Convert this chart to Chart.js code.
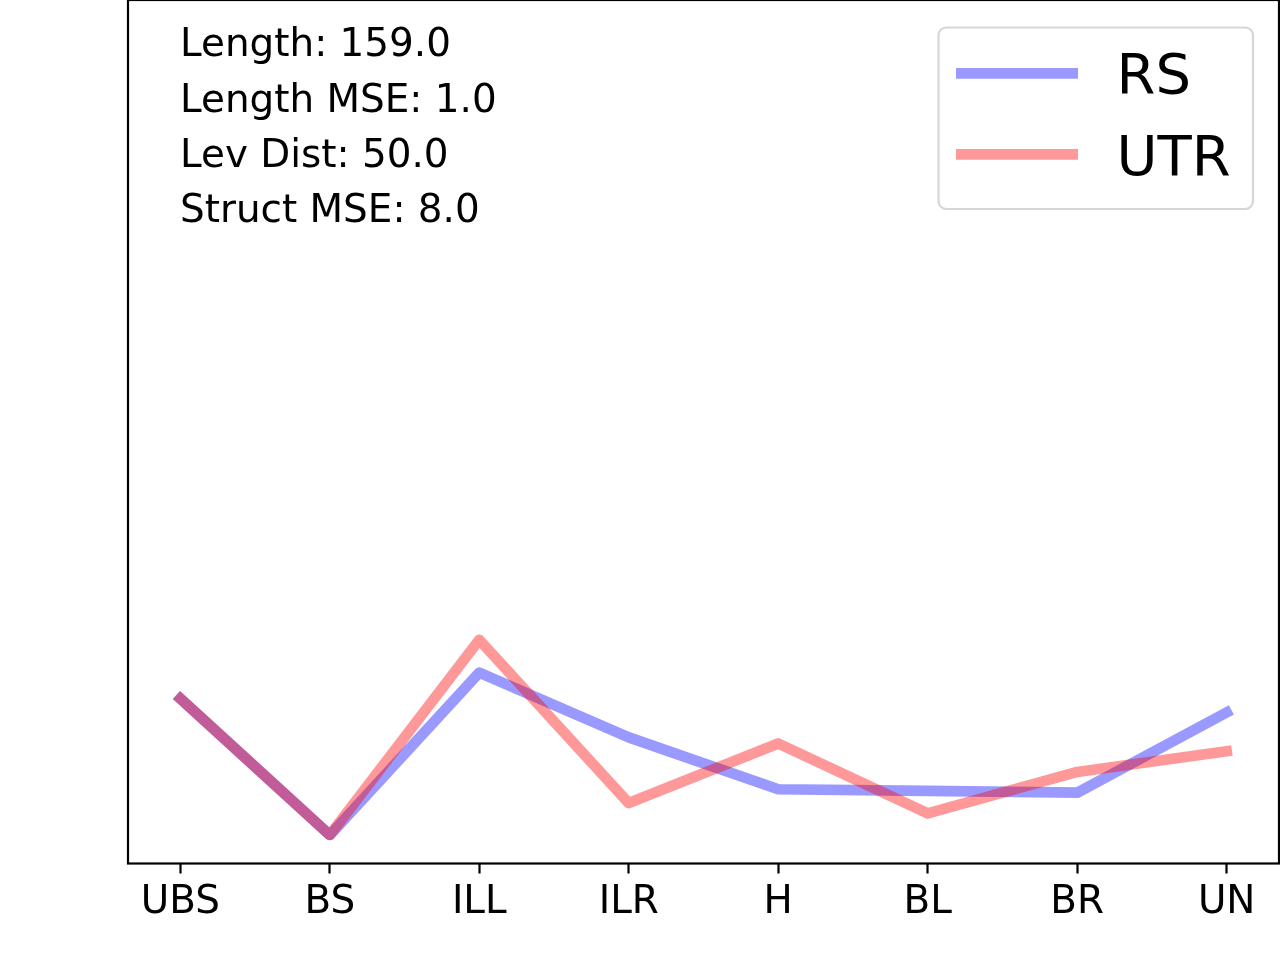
<!DOCTYPE html>
<html>
<head>
<meta charset="utf-8">
<script src="https://cdn.jsdelivr.net/npm/chart.js@4"></script>
<style>
  html, body { margin: 0; padding: 0; background: #fff; }
  #wrap { width: 1280px; height: 960px; position: relative; }
</style>
</head>
<body>
<div id="wrap"><canvas id="chart"></canvas></div>
<script>
// categories along the x axis
const labels = ['UBS', 'BS', 'ILL', 'ILR', 'H', 'BL', 'BR', 'UN'];

// series values (y axis has no ticks, read as % of plot height)
const rsValues = [19.1, 3.3, 22.1, 14.6, 8.6, 8.4, 8.2, 17.5];
const utrValues = [19.1, 3.3, 25.9, 7.0, 13.9, 5.8, 10.6, 13.0];

// stats printed in the top left corner
const statLines = ['Length: 159.0', 'Length MSE: 1.0', 'Lev Dist: 50.0', 'Struct MSE: 8.0'];

const FONT = '"DejaVu Sans", sans-serif';
const LW = 10.7;

const toPoints = (vals) => vals.map((v, i) => ({ x: i, y: v }));

// black box round the plot, like matplotlib spines
const framePlugin = {
    id: 'frame',
    afterDatasetsDraw(chart) {
        const a = chart.chartArea;
        const ctx = chart.ctx;
        ctx.save();
        ctx.strokeStyle = '#000';
        ctx.lineWidth = 2.2;
        ctx.strokeRect(a.left, a.top, a.right - a.left, a.bottom - a.top);
        ctx.restore();
    }
};

// stats text and the boxed legend
const overlayPlugin = {
    id: 'overlay',
    afterDraw(chart) {
        const ctx = chart.ctx;
        ctx.save();
        ctx.fillStyle = '#000';
        ctx.textBaseline = 'alphabetic';
        ctx.textAlign = 'left';
        ctx.font = '38.9px ' + FONT;
        const baseY = [56, 111.7, 166.7, 221.7];
        statLines.forEach((t, i) => ctx.fillText(t, 180, baseY[i]));

        // legend box
        const bx = 938.5, by = 27.5, bw = 314.5, bh = 181.5, r = 8;
        ctx.beginPath();
        ctx.moveTo(bx + r, by);
        ctx.arcTo(bx + bw, by, bx + bw, by + bh, r);
        ctx.arcTo(bx + bw, by + bh, bx, by + bh, r);
        ctx.arcTo(bx, by + bh, bx, by, r);
        ctx.arcTo(bx, by, bx + bw, by, r);
        ctx.closePath();
        ctx.fillStyle = 'rgba(255,255,255,0.8)';
        ctx.fill();
        ctx.strokeStyle = '#d6d6d6';
        ctx.lineWidth = 2.2;
        ctx.stroke();

        const rows = [chart.data.datasets[1], chart.data.datasets[0]];
        const rowY = [73.3, 154.3];
        const textY = [92.7, 175];
        ctx.font = '56px ' + FONT;
        rows.forEach((ds, i) => {
            ctx.beginPath();
            ctx.strokeStyle = ds.borderColor;
            ctx.lineWidth = LW;
            ctx.lineCap = 'butt';
            ctx.moveTo(956, rowY[i]);
            ctx.lineTo(1078, rowY[i]);
            ctx.stroke();
            ctx.fillStyle = '#000';
            ctx.fillText(ds.label, 1116.5, textY[i]);
        });
        ctx.restore();
    }
};

const config = {
    type: 'line',
    data: {
        datasets: [
            {
                label: 'UTR',
                data: toPoints(utrValues),
                borderColor: 'rgba(255,0,0,0.4)',
                borderWidth: LW,
                borderCapStyle: 'square',
                borderJoinStyle: 'round',
                pointRadius: 0,
                tension: 0,
                fill: false,
                order: 0
            },
            {
                label: 'RS',
                data: toPoints(rsValues),
                borderColor: 'rgba(0,0,255,0.4)',
                borderWidth: LW,
                borderCapStyle: 'square',
                borderJoinStyle: 'round',
                pointRadius: 0,
                tension: 0,
                fill: false,
                order: 1
            }
        ]
    },
    options: {
        responsive: true,
        maintainAspectRatio: false,
        animation: false,
        layout: { padding: { left: 128, right: 1, top: 0, bottom: 0 } },
        scales: {
            x: {
                type: 'linear',
                min: -0.35,
                max: 7.35,
                afterBuildTicks: (scale) => {
                    scale.ticks = labels.map((_, i) => ({ value: i }));
                },
                afterFit: (scale) => { scale.height = 96.5; },
                ticks: {
                    autoSkip: false,
                    maxRotation: 0,
                    padding: 6,
                    color: '#000',
                    font: { family: FONT, size: 38.9 },
                    callback: (v) => labels[v]
                },
                grid: {
                    display: true,
                    drawOnChartArea: false,
                    drawTicks: true,
                    tickLength: 10,
                    tickWidth: 2.2,
                    tickColor: '#000'
                },
                border: { display: false }
            },
            y: {
                display: false,
                min: 0,
                max: 100
            }
        },
        plugins: {
            legend: { display: false },
            tooltip: { enabled: false }
        }
    },
    plugins: [framePlugin, overlayPlugin]
};

const chart = new Chart(document.getElementById('chart'), config);
</script>
</body>
</html>
